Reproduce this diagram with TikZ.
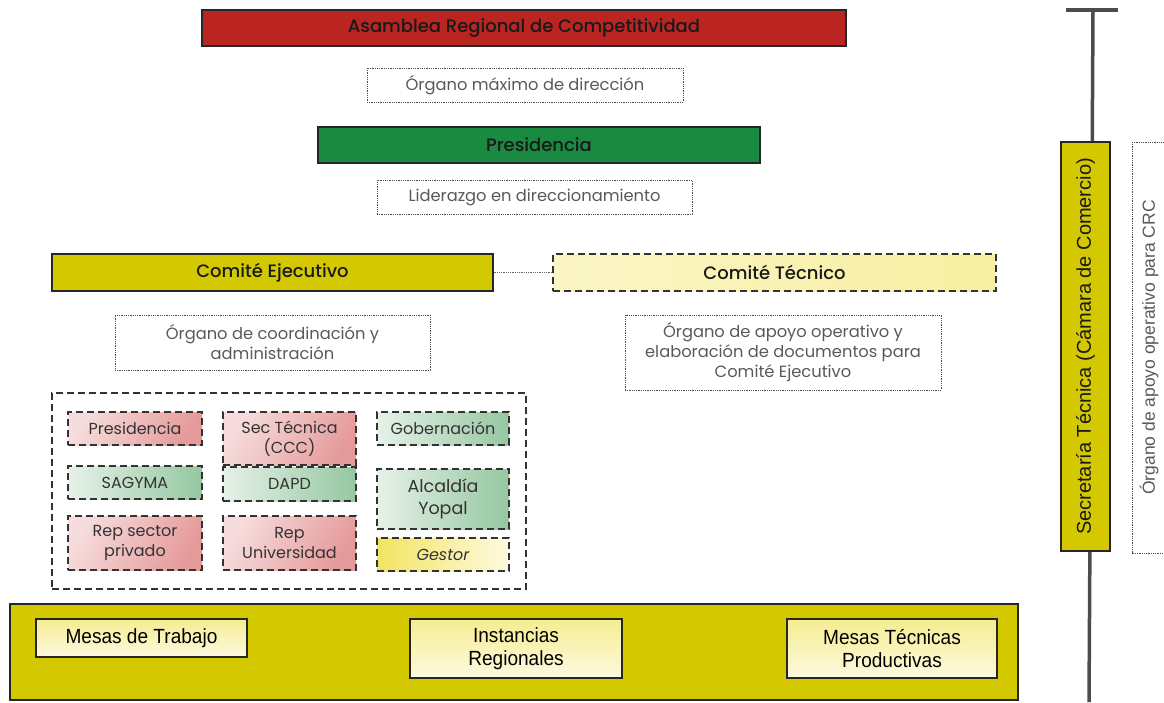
\documentclass[tikz,border=0pt]{standalone}
\usepackage{fontspec}
\setmainfont{Poppins}[BoldFont={Poppins Medium}]
\newfontfamily\narrowfont[FakeStretch=0.93]{Liberation Sans}
\newfontfamily\arialfont{Liberation Sans}
\usetikzlibrary{positioning}

\definecolor{asamred}{HTML}{BA2521}
\definecolor{presgreen}{HTML}{1A8A43}
\definecolor{olive}{HTML}{D4C900}
\definecolor{notegray}{HTML}{595959}
\definecolor{pinklight}{HTML}{F6DCDC}
\definecolor{pinkdark}{HTML}{E59A9A}
\definecolor{greenlight}{HTML}{E6F1E8}
\definecolor{greendark}{HTML}{95C7A1}
\definecolor{yellowlight}{HTML}{FDFAE0}
\definecolor{yellowdark}{HTML}{F2E462}

\begin{document}
\begin{tikzpicture}[x=1pt,y=-1pt,
	longdash/.style={dash pattern=on 7pt off 4pt},
	headbox/.style={draw=black!85, line width=1.2pt, inner sep=0pt, text=black!90, font=\bfseries\fontsize{18}{20}\selectfont},
	notebox/.style={draw=black!70, densely dotted, line width=0.8pt, inner sep=0pt, align=center, text=notegray, font=\fontsize{16.3}{20}\selectfont},
	memberbox/.style={draw=black!80, longdash, line width=1.2pt, inner sep=0pt, align=center, text=black!80, font=\fontsize{16}{20}\selectfont},
	redmember/.style={memberbox, shading=axis, left color=pinklight, right color=pinkdark, shading angle=60},
	greenmember/.style={memberbox, left color=greenlight, right color=greendark},
	mesabox/.style={draw=black!85, line width=1.2pt, inner sep=0pt, align=center, top color=yellowdark!70, bottom color=yellowlight, font=\narrowfont\fontsize{20.5}{23}\selectfont}]
	\useasboundingbox (0,0) rectangle (1164,702);
	
	% top levels
	\node[headbox, fill=asamred, minimum width=644, minimum height=36] at (524,28) (asamblea) {Asamblea Regional de Competitividad};
	\node[notebox, minimum width=316, minimum height=34] at (525,85) (asamblea_note) {Órgano máximo de dirección};
	\node[headbox, fill=presgreen, minimum width=442, minimum height=36] at (539,145) (presidencia) {Presidencia};
	\node[notebox, minimum width=315, minimum height=34] at (534.5,197) (presidencia_note) {Liderazgo en direccionamiento};
	
	% comites
	\node[headbox, fill=olive, minimum width=441, minimum height=37] at (272.5,272.5) (ejecutivo) {Comité Ejecutivo};
	\node[headbox, draw=black!80, longdash, left color=yellowlight!80!yellowdark, right color=yellowdark!60, minimum width=443, minimum height=37] at (774.5,272.5) (tecnico) {Comité Técnico};
	\draw[black!60, densely dotted, line width=0.8pt] (ejecutivo) -- (tecnico);
	\node[notebox, minimum width=315, minimum height=55] at (272.5,342.5) (ejecutivo_note) {Órgano de coordinación y\\administración};
	\node[notebox, minimum width=316, minimum height=75] at (783,352.5) (tecnico_note) {Órgano de apoyo operativo y\\elaboración de documentos para\\Comité Ejecutivo};
	
	% members of comite ejecutivo
	\node[draw=black!80, longdash, line width=1.2pt, minimum width=474, minimum height=196, inner sep=0pt] at (289,491) (members) {};
	\node[redmember, minimum width=134, minimum height=33] at (135,428.5) (m_pres) {Presidencia};
	\node[redmember, minimum width=133, minimum height=53] at (289.5,438.5) (m_sec) {Sec Técnica\\(CCC)};
	\node[greenmember, minimum width=132, minimum height=33] at (443,428.5) (m_gob) {Gobernación};
	\node[greenmember, minimum width=134, minimum height=33] at (135,482.5) (m_sag) {SAGYMA};
	\node[greenmember, minimum width=133, minimum height=34] at (289.5,484) (m_dapd) {DAPD};
	\node[greenmember, minimum width=132, minimum height=60, font=\fontsize{17.5}{22}\selectfont] at (443,499) (m_alc) {Alcaldía\\Yopal};
	\node[redmember, minimum width=134, minimum height=54] at (135,543) (m_priv) {Rep sector\\privado};
	\node[redmember, minimum width=133, minimum height=54] at (289.5,543) (m_uni) {Rep\\Universidad};
	\node[memberbox, left color=yellowdark, right color=yellowlight, minimum width=132, minimum height=33, font=\itshape\fontsize{16}{20}\selectfont] at (443,554.5) (m_gestor) {Gestor};
	
	% mesas
	\node[draw=black!85, line width=1.2pt, fill=olive, minimum width=1008, minimum height=96, inner sep=0pt] at (514,652) (mesas) {};
	\node[mesabox, minimum width=211, minimum height=38] at (141.5,638) (mesa_trabajo) {Mesas de Trabajo};
	\node[mesabox, minimum width=212, minimum height=59] at (516,648.5) (mesa_regional) {Instancias\\Regionales};
	\node[mesabox, minimum width=210, minimum height=59] at (892,648.5) (mesa_tecnica) {Mesas Técnicas\\Productivas};
	
	% secretaria
	\coordinate (sec_top) at (1093,10);
	\coordinate (sec_bottom) at (1089,702);
	\draw[black!70, line width=3.5pt] (1066,10) -- (1118,10);
	\draw[black!70, line width=3.5pt] (sec_top) -- (sec_bottom);
	\node[headbox, font=\arialfont\fontsize{20}{22}\selectfont, fill=olive, rotate=90, minimum width=409, minimum height=49] at (1085.5,346.5) (secretaria) {Secretaría Técnica (Cámara de Comercio)};
	\node[notebox, font=\arialfont\fontsize{17.5}{20}\selectfont, rotate=90, minimum width=411, minimum height=34] at (1149,347.5) (secretaria_note) {Órgano de apoyo operativo para CRC};
\end{tikzpicture}
\end{document}
